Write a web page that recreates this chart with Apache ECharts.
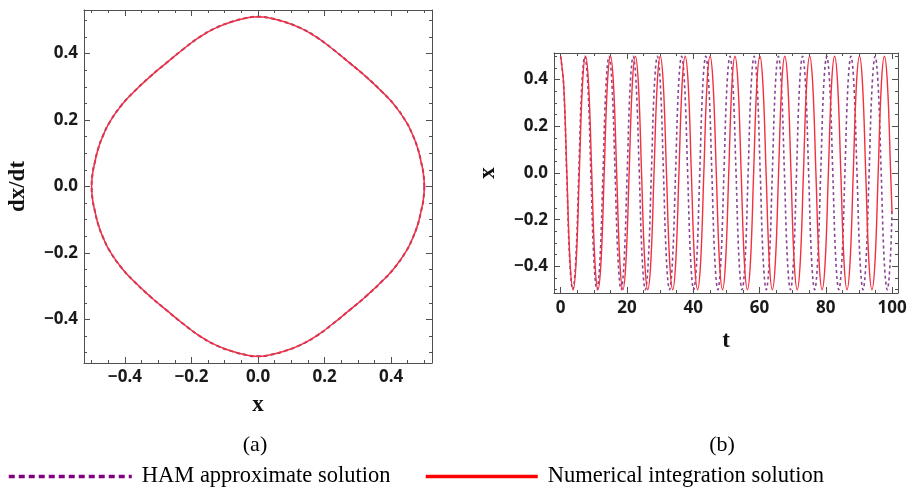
<!DOCTYPE html>
<html><head><meta charset="utf-8">
<script src="https://cdn.jsdelivr.net/npm/echarts@6/dist/echarts.min.js"></script>
<style>html,body{margin:0;padding:0;background:#fff}#c{width:912px;height:489px}</style>
</head><body><div id="c"></div>
<script>
// ---------- Panel (a): phase portrait (x, dx/dt) ----------
const phaseX = [0.5,0.497,0.49,0.48,0.465,0.445,0.41,0.375,0.325,0.275,0.225,0.175,0.125,0.074,0.035,0,
  -0.035,-0.074,-0.125,-0.175,-0.225,-0.275,-0.325,-0.375,-0.41,-0.445,-0.465,-0.48,-0.49,-0.497,-0.5,
  -0.497,-0.49,-0.48,-0.465,-0.445,-0.41,-0.375,-0.325,-0.275,-0.225,-0.175,-0.125,-0.074,-0.035,0,
  0.035,0.074,0.125,0.175,0.225,0.275,0.325,0.375,0.41,0.445,0.465,0.48,0.49,0.497,0.5];
const phaseV = [0,-0.04,-0.075,-0.115,-0.155,-0.195,-0.245,-0.283,-0.33,-0.372,-0.413,-0.45,-0.478,-0.497,-0.507,-0.511,
  -0.507,-0.497,-0.478,-0.45,-0.413,-0.372,-0.33,-0.283,-0.245,-0.195,-0.155,-0.115,-0.075,-0.04,0,
  0.04,0.075,0.115,0.155,0.195,0.245,0.283,0.33,0.372,0.413,0.45,0.478,0.497,0.507,0.511,
  0.507,0.497,0.478,0.45,0.413,0.372,0.33,0.283,0.245,0.195,0.155,0.115,0.075,0.04,0];

// ---------- Panel (b): x(t) ----------
const numT = [0,0.94,1.88,2.82,3.76,4.70,5.64,6.58,7.52,8.45,9.39,10.33,11.27,12.21,13.15,14.09,15.03,15.97,16.91,17.85,
  18.79,19.73,20.67,21.61,22.55,23.49,24.42,25.36,26.30,27.24,28.18,29.12,30.06,31.00,31.94,32.88,33.82,34.76,35.70,36.64,
  37.58,38.52,39.45,40.39,41.33,42.27,43.21,44.15,45.09,46.03,46.97,47.91,48.85,49.79,50.73,51.67,52.61,53.54,54.48,55.42,
  56.36,57.30,58.24,59.18,60.12,61.06,62.00,62.94,63.88,64.82,65.76,66.70,67.64,68.58,69.51,70.45,71.39,72.33,73.27,74.21,
  75.15,76.09,77.03,77.97,78.91,79.85,80.79,81.73,82.67,83.61,84.55,85.49,86.42,87.36,88.30,89.24,90.18,91.12,92.06,93.00,
  93.94,94.88,95.82,96.76,97.70,98.64,99.58,100];
const numX = [0.5,0.375,0,-0.375,-0.5,-0.375,0,0.375, 0.5,0.375,0,-0.375,-0.5,-0.375,0,0.375,
  0.5,0.375,0,-0.375,-0.5,-0.375,0,0.375, 0.5,0.375,0,-0.375,-0.5,-0.375,0,0.375,
  0.5,0.375,0,-0.375,-0.5,-0.375,0,0.375, 0.5,0.375,0,-0.375,-0.5,-0.375,0,0.375,
  0.5,0.375,0,-0.375,-0.5,-0.375,0,0.375, 0.5,0.375,0,-0.375,-0.5,-0.375,0,0.375,
  0.5,0.375,0,-0.375,-0.5,-0.375,0,0.375, 0.5,0.375,0,-0.375,-0.5,-0.375,0,0.375,
  0.5,0.375,0,-0.375,-0.5,-0.375,0,0.375, 0.5,0.375,0,-0.375,-0.5,-0.375,0,0.375,
  0.5,0.375,0,-0.375,-0.5,-0.375,0,0.375,
  0.5,0.375,0,-0.17];
const hamT = [0,0.91,1.83,2.74,3.65,4.56,5.48,6.39,7.30,8.21,9.13,10.04,10.95,11.86,12.78,13.69,14.60,15.51,16.43,17.34,
  18.25,19.16,20.08,20.99,21.90,22.81,23.73,24.64,25.55,26.46,27.38,28.29,29.20,30.11,31.03,31.94,32.85,33.76,34.68,35.59,
  36.50,37.41,38.33,39.24,40.15,41.06,41.98,42.89,43.80,44.71,45.63,46.54,47.45,48.36,49.28,50.19,51.10,52.01,52.93,53.84,
  54.75,55.66,56.58,57.49,58.40,59.31,60.23,61.14,62.05,62.96,63.88,64.79,65.70,66.61,67.53,68.44,69.35,70.26,71.18,72.09,
  73.00,73.91,74.83,75.74,76.65,77.56,78.48,79.39,80.30,81.21,82.13,83.04,83.95,84.86,85.78,86.69,87.60,88.51,89.43,90.34,
  91.25,92.16,93.08,93.99,94.90,95.81,96.73,97.64,98.55,99.46,100];
const hamX = [0.5,0.375,0,-0.375,-0.5,-0.375,0,0.375, 0.5,0.375,0,-0.375,-0.5,-0.375,0,0.375,
  0.5,0.375,0,-0.375,-0.5,-0.375,0,0.375, 0.5,0.375,0,-0.375,-0.5,-0.375,0,0.375,
  0.5,0.375,0,-0.375,-0.5,-0.375,0,0.375, 0.5,0.375,0,-0.375,-0.5,-0.375,0,0.375,
  0.5,0.375,0,-0.375,-0.5,-0.375,0,0.375, 0.5,0.375,0,-0.375,-0.5,-0.375,0,0.375,
  0.5,0.375,0,-0.375,-0.5,-0.375,0,0.375, 0.5,0.375,0,-0.375,-0.5,-0.375,0,0.375,
  0.5,0.375,0,-0.375,-0.5,-0.375,0,0.375, 0.5,0.375,0,-0.375,-0.5,-0.375,0,0.375,
  0.5,0.375,0,-0.375,-0.5,-0.375,0,0.375,
  0.5,0.375,0,-0.375,-0.5,-0.375,-0.15];

// ---------- tick labels ----------
const phaseTicks = [-0.4,-0.2,0,0.2,0.4];
const phaseMinorTicks = [-0.5,-0.45,-0.35,-0.3,-0.25,-0.15,-0.1,-0.05,0.05,0.1,0.15,0.25,0.3,0.35,0.45,0.5];
const timeTicks = [0,20,40,60,80,100];
const timeMinorTicks = [5,10,15,25,30,35,45,50,55,65,70,75,85,90,95];

const HAM_NAME = 'HAM approximate solution';
const NUM_NAME = 'Numerical integration solution';

const AX = '#505050';
const labelStyle = {fontFamily:'Noto Sans', fontWeight:'bold', fontSize:17, color:'#1a1a1a'};
const nameStyle = {fontFamily:'Liberation Serif', fontWeight:'bold', fontSize:23, color:'#111'};
const fmtDec = v => (v < 0 ? '\u2212' : '') + Math.abs(v).toFixed(1);
const fmtInt = v => String(Math.round(v));

function axis(grid, pos, min, max, tickVals, tickLen, showLine, labelVals, fmt, margin) {
  return {
    type:'value', gridIndex:grid, position:pos, min:min, max:max,
    splitLine:{show:false},
    axisLine:{show:showLine, onZero:false, lineStyle:{color:AX, width:1}},
    axisTick:{show:true, inside:true, length:tickLen, customValues:tickVals, lineStyle:{color:AX, width:1}},
    axisLabel: labelVals ? Object.assign({show:true, customValues:labelVals, formatter:fmt, margin:margin}, labelStyle) : {show:false}
  };
}

const AXR = [-0.523, 0.523], AYR = [-0.531, 0.531];
const BXR = [-2, 101.8], BYR = [-0.514, 0.514];

const xAxes = [
  Object.assign(axis(0,'bottom',AXR[0],AXR[1],phaseTicks,6,true,phaseTicks,fmtDec,6),
    {name:'x', nameLocation:'middle', nameGap:31, nameTextStyle:nameStyle}),
  axis(0,'top',AXR[0],AXR[1],phaseTicks,6,true,null),
  axis(1,'bottom',AXR[0],AXR[1],phaseMinorTicks,3,false,null),
  axis(1,'top',AXR[0],AXR[1],phaseMinorTicks,3,false,null),
  Object.assign(axis(2,'bottom',BXR[0],BXR[1],timeTicks,6,true,timeTicks,fmtInt,7),
    {name:'t', nameLocation:'middle', nameGap:37, nameTextStyle:nameStyle}),
  axis(2,'top',BXR[0],BXR[1],timeTicks,6,true,null),
  axis(3,'bottom',BXR[0],BXR[1],timeMinorTicks,3,false,null),
  axis(3,'top',BXR[0],BXR[1],timeMinorTicks,3,false,null)
];
const yAxes = [
  Object.assign(axis(0,'left',AYR[0],AYR[1],phaseTicks,6,true,phaseTicks,fmtDec,6),
    {name:'dx/dt', nameLocation:'middle', nameGap:54, nameTextStyle:nameStyle}),
  axis(0,'right',AYR[0],AYR[1],phaseTicks,6,true,null),
  axis(1,'left',AYR[0],AYR[1],phaseMinorTicks,3,false,null),
  axis(1,'right',AYR[0],AYR[1],phaseMinorTicks,3,false,null),
  Object.assign(axis(2,'left',BYR[0],BYR[1],phaseTicks,6,true,phaseTicks,fmtDec,6),
    {name:'x', nameLocation:'middle', nameGap:54, nameTextStyle:nameStyle}),
  axis(2,'right',BYR[0],BYR[1],phaseTicks,6,true,null),
  axis(3,'left',BYR[0],BYR[1],phaseMinorTicks,3,false,null),
  axis(3,'right',BYR[0],BYR[1],phaseMinorTicks,3,false,null)
];

const zip = (a, b) => a.map((v, i) => [v, b[i]]);
const PURPLE = '#8a4592', RED = '#f2303e';
const hidden = {color:'rgba(0,0,0,0)', borderColor:'rgba(0,0,0,0)', borderWidth:0, opacity:0};
const legendText = {fontFamily:'Liberation Serif', fontSize:22.5, color:'#000', padding:[0,0,0,5]};

const chart = echarts.init(document.getElementById('c'), null, {renderer:'canvas'});
chart.setOption({
  animation:false,
  backgroundColor:'#ffffff',
  grid:[
    {left:84, top:10, width:348, height:353},
    {left:84, top:10, width:348, height:353},
    {left:554, top:53, width:344, height:240},
    {left:554, top:53, width:344, height:240}
  ],
  xAxis:xAxes,
  yAxis:yAxes,
  legend:[
    {data:[{name:HAM_NAME, itemStyle:hidden, lineStyle:{color:'#800080', width:3.5, type:[6,4]}}],
     left:2, top:460, itemWidth:123, itemHeight:14, selectedMode:false, textStyle:legendText},
    {data:[{name:NUM_NAME, itemStyle:hidden, lineStyle:{color:'#ff0000', width:3.5, type:'solid'}}],
     left:419, top:460, itemWidth:112, itemHeight:14, selectedMode:false, textStyle:legendText}
  ],
  graphic:[
    {type:'text', x:255, y:445, style:{text:'(a)', font:'22px "Liberation Serif"', fill:'#000', align:'center', verticalAlign:'middle'}},
    {type:'text', x:722, y:445, style:{text:'(b)', font:'22px "Liberation Serif"', fill:'#000', align:'center', verticalAlign:'middle'}}
  ],
  series:[
    {name:HAM_NAME, type:'line', xAxisIndex:0, yAxisIndex:0, data:zip(phaseX, phaseV),
     symbol:'none', smooth:0.5, lineStyle:{color:PURPLE, width:2, type:[4,3]}, itemStyle:{color:PURPLE}, z:2},
    {name:NUM_NAME, type:'line', xAxisIndex:0, yAxisIndex:0, data:zip(phaseX, phaseV),
     symbol:'none', smooth:0.5, lineStyle:{color:RED, width:1.5}, itemStyle:{color:RED}, z:3},
    {name:HAM_NAME, type:'line', xAxisIndex:4, yAxisIndex:4, data:zip(hamT, hamX),
     symbol:'none', smooth:0.4, lineStyle:{color:PURPLE, width:1.6, type:[3,3]}, itemStyle:{color:PURPLE}, z:2},
    {name:NUM_NAME, type:'line', xAxisIndex:4, yAxisIndex:4, data:zip(numT, numX),
     symbol:'none', smooth:0.4, lineStyle:{color:RED, width:1.4}, itemStyle:{color:RED}, z:3}
  ]
});
</script>
</body></html>
